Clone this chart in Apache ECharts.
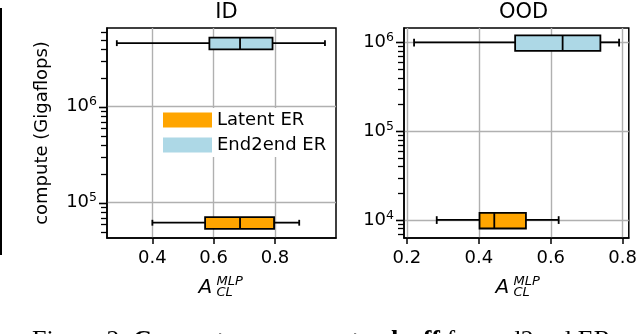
<!DOCTYPE html>
<html>
<head>
<meta charset="utf-8">
<script src="https://cdn.jsdelivr.net/npm/echarts@6/dist/echarts.min.js"></script>
<style>
  html, body { margin: 0; padding: 0; background: #fff; }
  #chart { width: 640px; height: 334px; }
</style>
</head>
<body>
<div id="chart"></div>
<script>
const FONT = 'DejaVu Sans'

// groups, one box each per panel
const groupNames = ['Latent ER', 'End2end ER']
const groupColors = ['#FFA500', '#ADD8E6']

// ID panel: [low whisker, q1, median, q3, high whisker]
const idCompute = [6.2e4, 4.6e6]
const idLatent = [0.40, 0.572, 0.686, 0.797, 0.879]
const idEnd2end = [0.284, 0.586, 0.686, 0.792, 0.963]

// OOD panel
const oodCompute = [1.0e4, 1.0e6]
const oodLatent = [0.283, 0.402, 0.443, 0.531, 0.622]
const oodEnd2end = [0.22, 0.501, 0.633, 0.738, 0.79]

// axis ranges and ticks
const idXRange = [0.252, 0.999]
const oodXRange = [0.192, 0.817]
const idXTicks = [0.4, 0.6, 0.8]
const oodXTicks = [0.2, 0.4, 0.6, 0.8]
const idYRange = [4.29e4, 6.6e6]
const oodYRange = [6.25e3, 1.45e6]
const idYMajor = [1e5, 1e6]
const oodYMajor = [1e4, 1e5, 1e6]
const idYMinor = [5e4, 6e4, 7e4, 8e4, 9e4, 2e5, 3e5, 4e5, 5e5, 6e5, 7e5, 8e5, 9e5, 2e6, 3e6, 4e6, 5e6, 6e6]
const oodYMinor = [7e3, 8e3, 9e3, 2e4, 3e4, 4e4, 5e4, 6e4, 7e4, 8e4, 9e4, 2e5, 3e5, 4e5, 5e5, 6e5, 7e5, 8e5, 9e5]

const panels = [
    { title: 'ID', left: 107, top: 28, width: 229, height: 210, boxRel: 0.14,
      xRange: idXRange, xTicks: idXTicks, yRange: idYRange, yMajor: idYMajor, yMinor: idYMinor,
      compute: idCompute, stats: [idLatent, idEnd2end] },
    { title: 'OOD', left: 404, top: 28, width: 229, height: 210, boxRel: 0.2,
      xRange: oodXRange, xTicks: oodXTicks, yRange: oodYRange, yMajor: oodYMajor, yMinor: oodYMinor,
      compute: oodCompute, stats: [oodLatent, oodEnd2end] }
]

function boxRenderer(k) {
    return function (params, api) {
        const pos = api.value(5)
        const mid = api.value(2)
        const xs = [0, 1, 2, 3, 4].map(i => api.coord([api.value(i), pos])[0])
        const yc = api.coord([mid, pos])[1]
        const yTop = api.coord([mid, pos * (1 + k)])[1]
        const yBot = api.coord([mid, pos * (1 - k)])[1]
        const cTop = api.coord([mid, pos * (1 + k / 2)])[1]
        const cBot = api.coord([mid, pos * (1 - k / 2)])[1]
        const line = { stroke: '#000', lineWidth: 1.8 }
        return {
            type: 'group',
            children: [
                { type: 'line', shape: { x1: xs[0], y1: yc, x2: xs[1], y2: yc }, style: line },
                { type: 'line', shape: { x1: xs[3], y1: yc, x2: xs[4], y2: yc }, style: line },
                { type: 'line', shape: { x1: xs[0], y1: cTop, x2: xs[0], y2: cBot }, style: line },
                { type: 'line', shape: { x1: xs[4], y1: cTop, x2: xs[4], y2: cBot }, style: line },
                { type: 'rect', shape: { x: xs[1], y: yTop, width: xs[3] - xs[1], height: yBot - yTop },
                  style: { fill: api.visual('color'), stroke: '#000', lineWidth: 1.8 } },
                { type: 'line', shape: { x1: xs[2], y1: yTop, x2: xs[2], y2: yBot }, style: line }
            ]
        }
    }
}

// log ticks on the left spine (matplotlib style: outward, minor shorter)
function logTicks(major, minor) {
    return function (params, api) {
        const x0 = api.coord([api.value(0), major[0]])[0]
        const tick = (v, len, w) => {
            const y = Math.round(api.coord([api.value(0), v])[1]) + 0.5
            return { type: 'line', shape: { x1: x0 - len, y1: y, x2: x0, y2: y },
                style: { stroke: '#000', lineWidth: w } }
        }
        return {
            type: 'group',
            children: minor.map(v => tick(v, 6, 1.3)).concat(major.map(v => tick(v, 8, 1.6)))
        }
    }
}

const grids = [], xAxes = [], yAxes = [], series = [], titles = [], graphics = []

panels.forEach((p, i) => {
    grids.push({ left: p.left, top: p.top, width: p.width, height: p.height,
        show: true, borderColor: '#000', borderWidth: 1.5, backgroundColor: 'transparent' })
    xAxes.push({
        type: 'value', gridIndex: i, min: p.xRange[0], max: p.xRange[1],
        axisLine: { show: true, lineStyle: { color: '#000', width: 1.5 } },
        axisTick: { show: true, length: 6, customValues: p.xTicks, lineStyle: { color: '#000', width: 1.5 } },
        axisLabel: { customValues: p.xTicks, margin: 11, color: '#000', fontSize: 18, fontFamily: FONT,
            formatter: v => v.toFixed(1) },
        splitLine: { show: true, lineStyle: { color: '#b0b0b0', width: 1.4 } }
    })
    yAxes.push({
        type: 'log', logBase: 10, gridIndex: i, min: p.yRange[0], max: p.yRange[1], position: 'left',
        name: i === 0 ? 'compute (Gigaflops)' : '', nameLocation: 'middle', nameGap: 56, nameRotate: 90,
        nameTextStyle: { color: '#000', fontSize: 18, fontFamily: FONT },
        axisLine: { show: true, lineStyle: { color: '#000', width: 1.5 } },
        axisTick: { show: false, customValues: p.yMajor },
        axisLabel: {
            customValues: p.yMajor, margin: 10, color: '#000',
            formatter: v => '{b|10}{s|' + Math.round(Math.log10(v)) + '}',
            rich: {
                b: { fontSize: 18, fontFamily: FONT, color: '#000', lineHeight: 22 },
                s: { fontSize: 12.5, fontFamily: FONT, color: '#000', verticalAlign: 'top', lineHeight: 14 }
            }
        },
        splitLine: { show: true, lineStyle: { color: '#b0b0b0', width: 1.4 } }
    })
    groupNames.forEach((name, g) => {
        series.push({
            name: name, type: 'custom', xAxisIndex: i, yAxisIndex: i,
            itemStyle: { color: groupColors[g] },
            encode: { x: [0, 1, 2, 3, 4], y: 5 },
            data: [p.stats[g].concat([p.compute[g]])],
            renderItem: boxRenderer(p.boxRel)
        })
    })
    series.push({
        name: 'ticks' + i, type: 'custom', xAxisIndex: i, yAxisIndex: i, clip: false, z: 10,
        encode: { x: 0, y: 1 },
        data: [[p.xRange[0], p.yMajor[0]]],
        renderItem: logTicks(p.yMajor, p.yMinor)
    })
    const cx = p.left + p.width / 2
    titles.push({ text: p.title, left: cx, textAlign: 'center', top: -3,
        textStyle: { color: '#000', fontSize: 21, fontWeight: 'normal', fontFamily: FONT } })
    graphics.push(
        { type: 'text', left: cx - 23, top: 278, style: { text: 'A', fill: '#000',
            font: 'italic 20px "DejaVu Sans"' } },
        { type: 'text', left: cx - 5, top: 275, style: { text: 'MLP', fill: '#000',
            font: 'italic 13px "DejaVu Sans"' } },
        { type: 'text', left: cx - 5, top: 286, style: { text: 'CL', fill: '#000',
            font: 'italic 13px "DejaVu Sans"' } }
    )
})

graphics.push(
    { type: 'line', shape: { x1: 1, y1: 8, x2: 1, y2: 255 }, style: { stroke: '#000', lineWidth: 2 } },
    { type: 'text', left: 32, top: 328, style: {
        text: '{r|Figure 2: }{b|Compute-accuracy tradeoff}{r| for end2end ER.}',
        rich: {
            r: { font: '26px "Liberation Serif"', fill: '#000' },
            b: { font: 'bold 26px "Liberation Serif"', fill: '#000' }
        }
    } }
)

var dom = document.getElementById('chart')
var myChart = echarts.init(dom, null, { renderer: 'canvas' })

var option = {
    animation: false,
    backgroundColor: '#fff',
    title: titles,
    legend: {
        data: groupNames, left: 160, top: 108, orient: 'vertical',
        icon: 'rect', itemWidth: 49, itemHeight: 15, itemGap: 7,
        padding: 3, backgroundColor: '#fff',
        itemStyle: { borderWidth: 0 },
        textStyle: { color: '#000', fontSize: 18, fontFamily: FONT }
    },
    grid: grids,
    xAxis: xAxes,
    yAxis: yAxes,
    series: series,
    graphic: graphics
}

option && myChart.setOption(option)
window.addEventListener('resize', myChart.resize)
</script>
</body>
</html>
